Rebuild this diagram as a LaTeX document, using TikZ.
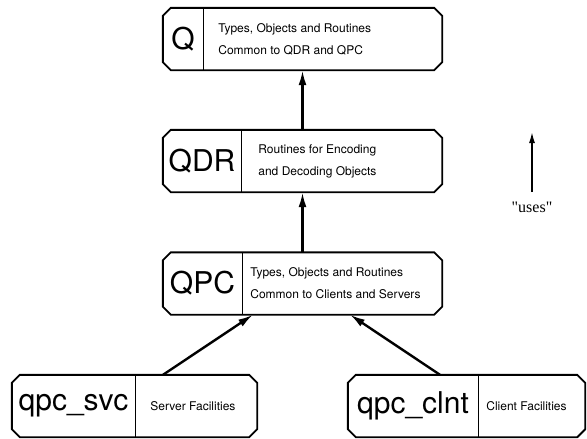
\documentclass[tikz,border=0pt]{standalone}
\usepackage{fontspec}
\setmainfont{Liberation Serif}
\newfontfamily\helv{TeX Gyre Heros}
\newfontfamily\timesfont{Liberation Serif}
\usepackage{tikz}
\usetikzlibrary{arrows.meta,positioning,calc}

\tikzset{modbox/.style={
    rectangle,
    minimum height=62pt,
    inner sep=0pt,
  }}
% chamfered outline round a module node
\newcommand\chamferbox[1]{%
  \draw [line width=1.9pt,line join=round]
  ($(#1.north west)+(8,0)$) -- ($(#1.north east)+(-8,0)$) --
  ($(#1.north east)+(0,8)$) -- ($(#1.south east)+(0,-8)$) --
  ($(#1.south east)+(-8,0)$) -- ($(#1.south west)+(8,0)$) --
  ($(#1.south west)+(0,-8)$) -- ($(#1.north west)+(0,8)$) -- cycle;}

\begin{document}
\begin{tikzpicture}[x=1pt,y=-1pt,
        modname/.style={
          anchor=west, inner sep=0pt, minimum height=62pt,
          font=\helv\fontsize{30}{30}\selectfont
        },
        moddesc/.style={
          anchor=west, inner sep=0pt, align=left,
          font=\helv\fontsize{12}{22}\selectfont
        },
        divider/.style={line width=1.2pt},
        usesarrow/.style={-{Latex[length=15pt,width=8pt]},line width=2.4pt},
        legendarrow/.style={-{Latex[length=11pt,width=6pt]},line width=1.5pt}
      ]
        \useasboundingbox (0,0) rectangle (587,439);

        % Modules
        \node (q) [modbox,minimum width=279pt] at (302.5,39) {};
        \node (qname) [modname,minimum width=40pt] at (q.west) {Q};
        \node (qdesc) [moddesc,right=15pt of qname.east,anchor=west]
        {Types, Objects and Routines\\Common to QDR and QPC};
        \draw [divider] (qname.north east) -- (qname.south east);
        \chamferbox{q}

        \node (qdr) [modbox,minimum width=279pt] at (302.5,161) {};
        \node (qdrname) [modname,minimum width=78pt] at (qdr.west) {QDR};
        \node (qdrdesc) [moddesc,right=17pt of qdrname.east,anchor=west]
        {Routines for Encoding\\and Decoding Objects};
        \draw [divider] (qdrname.north east) -- (qdrname.south east);
        \chamferbox{qdr}

        \node (qpc) [modbox,minimum width=279pt] at (302.5,283.5) {};
        \node (qpcname) [modname,minimum width=79pt] at (qpc.west) {QPC};
        \node (qpcdesc) [moddesc,right=8pt of qpcname.east,anchor=west]
        {Types, Objects and Routines\\Common to Clients and Servers};
        \draw [divider] (qpcname.north east) -- (qpcname.south east);
        \chamferbox{qpc}

        \node (svc) [modbox,minimum width=245pt] at (134.5,406) {};
        \node (svcname) [modname,minimum width=123pt] at (svc.west) {qpc\_svc};
        \node (svcdesc) [moddesc,right=15pt of svcname.east,anchor=west]
        {Server Facilities};
        \draw [divider] (svcname.north east) -- (svcname.south east);
        \chamferbox{svc}

        \node (clnt) [modbox,minimum width=237pt] at (466.5,406) {};
        \node (clntname) [modname,minimum width=130pt] at (clnt.west) {qpc\_clnt};
        \node (clntdesc) [moddesc,right=8pt of clntname.east,anchor=west]
        {Client Facilities};
        \draw [divider] (clntname.north east) -- (clntname.south east);
        \chamferbox{clnt}

        % "uses" arrows
        \draw [usesarrow] (qdr.north) -- (q.south);
        \draw [usesarrow] (qpc.north) -- (qdr.south);
        \draw [usesarrow] ($(svc.north)+(28.5,0)$) -- ($(qpc.south)+(-49.5,0)$);
        \draw [usesarrow] ($(clnt.north)+(-26.5,0)$) -- ($(qpc.south)+(47.5,0)$);

        % Legend
        \coordinate (legendfoot) at (532,192);
        \coordinate (legendhead) at (532,132);
        \draw [legendarrow] (legendfoot) -- (legendhead);
        \node (legendtext) [below=6pt of legendfoot,font=\timesfont\fontsize{16}{16}\selectfont]
        {"uses"};

      \end{tikzpicture}
\end{document}
